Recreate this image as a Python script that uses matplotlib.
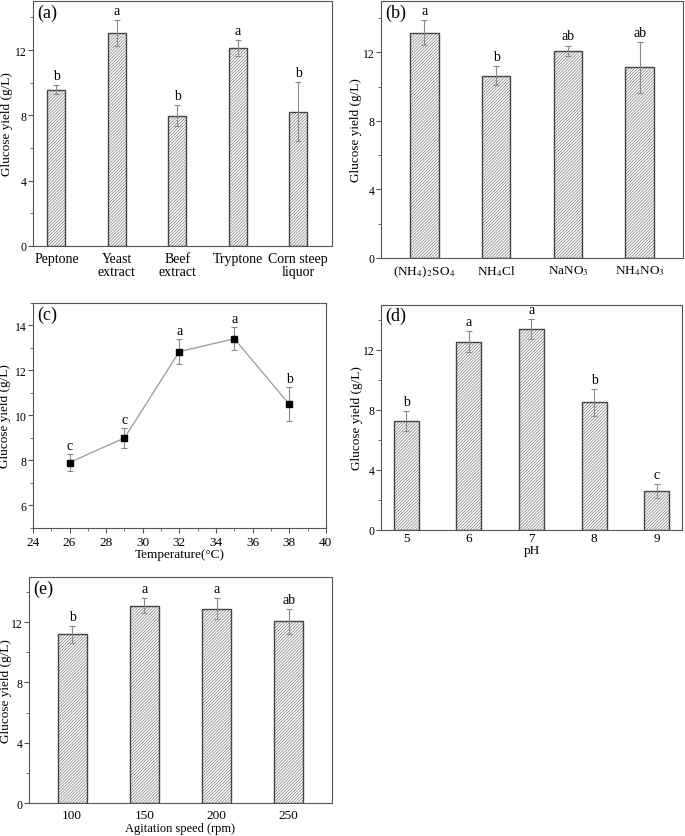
import matplotlib
matplotlib.use("Agg")
import matplotlib.pyplot as plt
from matplotlib.ticker import MultipleLocator

plt.rcParams['font.family'] = ['Liberation Serif', 'DejaVu Serif']
plt.rcParams['mathtext.fontset'] = 'stix'
plt.rcParams['hatch.linewidth'] = 0.5
plt.rcParams['axes.edgecolor'] = '#555555'
plt.rcParams['xtick.color'] = '#555555'
plt.rcParams['ytick.color'] = '#555555'
plt.rcParams['xtick.labelcolor'] = 'black'
plt.rcParams['ytick.labelcolor'] = 'black'

# (a) nitrogen sources, organic
org_names = ['Peptone', 'Yeast\nextract', 'Beef\nextract', 'Tryptone', 'Corn steep\nliquor']
org_vals = [9.58, 13.04, 7.98, 12.12, 8.22]
org_err = [0.25, 0.77, 0.63, 0.5, 1.8]
org_sig = ['b', 'a', 'b', 'a', 'b']

# (b) nitrogen sources, inorganic
inorg_names = [r'(NH$_4$)$_2$SO$_4$', r'NH$_4$Cl', r'NaNO$_3$', r'NH$_4$NO$_3$']
inorg_vals = [13.15, 10.64, 12.1, 11.13]
inorg_err = [0.72, 0.55, 0.3, 1.48]
inorg_sig = ['a', 'b', 'ab', 'ab']

# (c) temperature
temp = [26, 29, 32, 35, 38]
temp_vals = [7.91, 9.0, 12.84, 13.41, 10.5]
temp_err = [0.37, 0.45, 0.56, 0.52, 0.76]
temp_sig = ['c', 'c', 'a', 'a', 'b']

# (d) pH
ph = [5, 6, 7, 8, 9]
ph_vals = [7.25, 12.54, 13.36, 8.48, 2.57]
ph_err = [0.67, 0.69, 0.67, 0.93, 0.49]
ph_sig = ['b', 'a', 'a', 'b', 'c']

# (e) agitation speed
speed = ['100', '150', '200', '250']
speed_vals = [11.2, 13.11, 12.89, 12.05]
speed_err = [0.58, 0.49, 0.69, 0.82]
speed_sig = ['b', 'a', 'a', 'ab']

fig = plt.figure(figsize=(6.85, 8.37), dpi=100)

YTICK_FS = 8.5
LAB_FS = 9.5
SIG_FS = 10
TAG_FS = 13


def style_y(ax, xlab):
    ax.yaxis.set_major_locator(MultipleLocator(4))
    ax.yaxis.set_minor_locator(MultipleLocator(2))
    ax.tick_params(axis='y', which='major', direction='out', length=3.5, labelsize=YTICK_FS, pad=1)
    ax.tick_params(axis='y', which='minor', direction='out', length=2)
    ax.set_ylabel('Glucose yield (g/L)', fontsize=LAB_FS)
    ax.yaxis.set_label_coords(xlab, 0.5)


def bar_panel(rect, xs, vals, errs, sig, width, xlim, tag, xlab, xfs, xpad=4):
    ax = fig.add_axes(rect)
    # hatch layer, then the outline on top
    ax.bar(xs, vals, width=width, facecolor='white', edgecolor='#7a7a7a',
           hatch='/' * 11, linewidth=0, zorder=2)
    ax.bar(xs, vals, width=width, fill=False, edgecolor='#444444',
           linewidth=1.0, zorder=2.5)
    ax.errorbar(xs, vals, yerr=errs, fmt='none', ecolor='#8a8a8a',
                elinewidth=0.8, capsize=2.5, capthick=0.8, zorder=3)
    for x, v, e, s in zip(xs, vals, errs, sig):
        ax.text(x, v + e + 0.2, s, ha='center', va='bottom', fontsize=SIG_FS)
    ax.set_xlim(*xlim)
    ax.set_ylim(0, 15)
    style_y(ax, xlab)
    ax.tick_params(axis='x', length=0, labelsize=xfs, pad=xpad)
    ax.text(0.015, 0.99, tag, transform=ax.transAxes, ha='left', va='top', fontsize=TAG_FS)
    return ax


# (a)
ax_a = bar_panel([0.048, 0.7049, 0.4365, 0.2927], [1, 2, 3, 4, 5], org_vals, org_err,
                 org_sig, 0.3, (0.61, 5.56), '(a)', -0.067, 10)
ax_a.set_xticks([1, 2, 3, 4, 5])
ax_a.set_xticklabels(org_names, linespacing=1.05)

# (b)
ax_b = bar_panel([0.5562, 0.6906, 0.4409, 0.3070], [1, 2, 3, 4], inorg_vals, inorg_err,
                 inorg_sig, 0.4, (0.4, 4.6), '(b)', -0.063, 9.5)
ax_b.set_xticks([1, 2, 3, 4])
ax_b.set_xticklabels(inorg_names)

# (c)
ax_c = fig.add_axes([0.048, 0.368, 0.4277, 0.2688])
ax_c.errorbar(temp, temp_vals, yerr=temp_err, fmt='none', ecolor='#8a8a8a',
              elinewidth=0.8, capsize=2.5, capthick=0.8, zorder=2)
ax_c.plot(temp, temp_vals, color='#999999', linewidth=0.9, zorder=3)
ax_c.plot(temp, temp_vals, 's', color='black', markersize=4, zorder=4)
for x, v, e, s in zip(temp, temp_vals, temp_err, temp_sig):
    ax_c.text(x, v + e + 0.08, s, ha='center', va='bottom', fontsize=SIG_FS)
ax_c.set_xlim(24, 40)
ax_c.set_ylim(5, 15)
ax_c.xaxis.set_major_locator(MultipleLocator(2))
ax_c.xaxis.set_minor_locator(MultipleLocator(1))
ax_c.yaxis.set_major_locator(MultipleLocator(2))
ax_c.yaxis.set_minor_locator(MultipleLocator(1))
ax_c.tick_params(axis='x', which='major', direction='out', length=3.5, labelsize=9.5, pad=2)
ax_c.tick_params(axis='y', which='major', direction='out', length=3.5, labelsize=YTICK_FS, pad=1)
ax_c.tick_params(axis='both', which='minor', direction='out', length=2)
ax_c.set_ylabel('Glucose yield (g/L)', fontsize=LAB_FS)
ax_c.yaxis.set_label_coords(-0.075, 0.5)
ax_c.set_xlabel('Temperature(°C)', fontsize=9.5, labelpad=0)
ax_c.text(0.015, 0.99, '(c)', transform=ax_c.transAxes, ha='left', va='top', fontsize=TAG_FS)

# (d)
ax_d = bar_panel([0.5562, 0.3660, 0.4394, 0.2688], ph, ph_vals, ph_err, ph_sig,
                 0.4, (4.6, 9.4), '(d)', -0.06, 9.5, xpad=2)
ax_d.set_xticks(ph)
ax_d.set_xlabel('pH', fontsize=9.5, labelpad=0)

# (e)
ax_e = bar_panel([0.0423, 0.0394, 0.4423, 0.2700], [1, 2, 3, 4], speed_vals, speed_err,
                 speed_sig, 0.4, (0.4, 4.6), '(e)', -0.056, 9.5)
ax_e.set_xticks([1, 2, 3, 4])
ax_e.set_xticklabels(speed)
ax_e.set_xlabel('Agitation speed (rpm)', fontsize=9, labelpad=1)

fig.savefig('out.png', dpi=100)
